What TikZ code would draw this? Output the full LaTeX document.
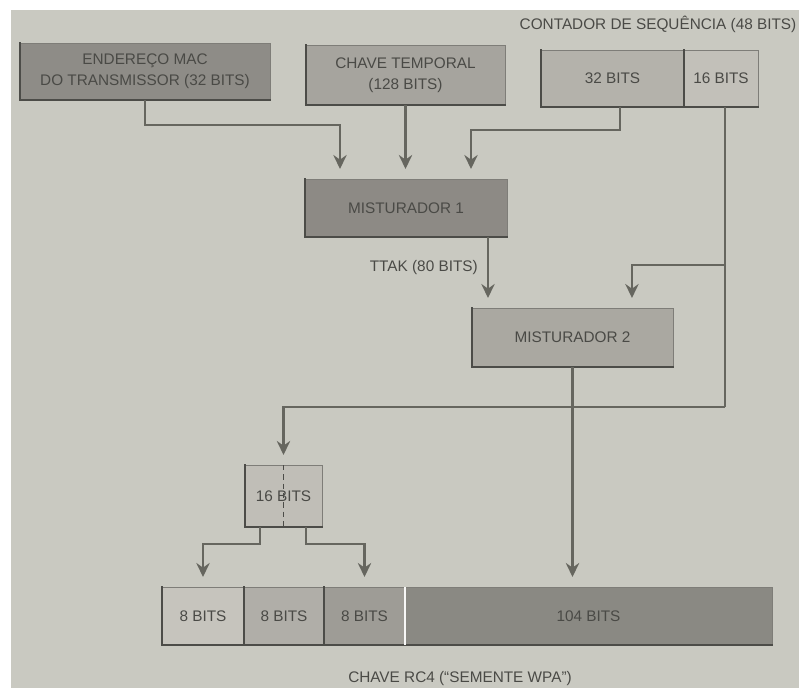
\documentclass[tikz,border=0pt]{standalone}
\usepackage{fontspec}
\setmainfont{Liberation Sans}
\usetikzlibrary{arrows.meta,calc}

% paper and ink
\definecolor{page}{HTML}{C9C9C1}
\definecolor{ink}{HTML}{4A4A46}
\definecolor{wire}{HTML}{66665F}
\definecolor{edgedark}{HTML}{4C4C48}
\definecolor{edgelight}{HTML}{7E7D78}
% box fills
\definecolor{fillA}{HTML}{8E8C87}
\definecolor{fillB}{HTML}{A6A49E}
\definecolor{fillCa}{HTML}{B4B2AB}
\definecolor{fillCb}{HTML}{C2C0B9}
\definecolor{fillMa}{HTML}{8D8A85}
\definecolor{fillMb}{HTML}{AAA8A1}
\definecolor{fillS}{HTML}{C0BEB7}
\definecolor{fillEa}{HTML}{C6C4BD}
\definecolor{fillEb}{HTML}{B0AEA8}
\definecolor{fillEc}{HTML}{9E9C96}
\definecolor{fillK}{HTML}{8A8983}

\begin{document}
\begin{tikzpicture}[x=0.75pt,y=-0.75pt,
  font=\fontsize{11.5}{15.5}\selectfont,
  block/.style={draw=edgelight, line width=0.6pt, inner sep=0pt, outer sep=0pt,
                text=ink, align=center},
  shade edge/.style={draw=edgedark, line width=1.6pt, line cap=rect},
  conn/.style={draw=wire, line width=1.9pt},
  arr/.style={conn, -{Stealth[length=10.5pt,width=10pt,inset=3.5pt]}, shorten >=7.5pt},
  label/.style={text=ink, inner sep=0pt},
]
\useasboundingbox (0,0) rectangle (799,688);
\fill[white] (0,0) rectangle (799,688);
\fill[page] (11,10) rectangle (799,688);

% inputs
\node[label] (title) at (658,24) {CONTADOR DE SEQUÊNCIA (48 BITS)};
\node[block, fill=fillA, minimum width=187.5pt, minimum height=42.75pt] (A) at (145,71.5)
  {ENDEREÇO MAC\\DO TRANSMISSOR (32 BITS)};
\node[block, fill=fillB, minimum width=149.25pt, minimum height=45pt] (B) at (405.5,75)
  {CHAVE TEMPORAL\\(128 BITS)};
\node[block, fill=fillCa, minimum width=107.25pt, minimum height=42.75pt] (C32) at (612.5,78.5)
  {32 BITS};
\node[block, fill=fillCb, minimum width=55.5pt, minimum height=42.75pt] (C16) at (721,78.5)
  {16 BITS};

% mixing stages
\node[block, fill=fillMa, minimum width=151.5pt, minimum height=43.5pt] (M1) at (406,208)
  {MISTURADOR 1};
\node[block, fill=fillMb, minimum width=150.75pt, minimum height=44.25pt] (M2) at (572.5,337.5)
  {MISTURADOR 2};
\node[label, anchor=east] (ttak) at (478,268) {TTAK (80 BITS)};

% 16-bit split block
\node[block, fill=fillS, minimum width=57.75pt, minimum height=46.5pt] (S16) at (283.5,496)
  {16 BITS};
\draw[edgedark, line width=0.8pt, dash pattern=on 4pt off 3pt] (S16.north) -- (S16.south);

% RC4 key
\node[block, fill=fillEa, minimum width=61.5pt, minimum height=43.5pt] (E1) at (203,616) {8 BITS};
\node[block, fill=fillEb, minimum width=60pt, minimum height=43.5pt] (E2) at (284,616) {8 BITS};
\node[block, fill=fillEc, minimum width=60.75pt, minimum height=43.5pt] (E3) at (364.5,616) {8 BITS};
\node[block, fill=fillK, minimum width=275.25pt, minimum height=43.5pt] (K) at (588.5,616) {104 BITS};
\node[label] (caption) at (460,679) {CHAVE RC4 (“SEMENTE WPA”)};

% darker left and bottom edges
\foreach \n in {A,B,C32,C16,M1,M2,S16,E1,E2,E3}
  \draw[shade edge] (\n.north west) -- (\n.south west) -- (\n.south east);
\draw[shade edge] (K.south west) -- (K.south east);
\draw[white!85!page, line width=1.2pt] (K.north west) -- (K.south west);

% into mixer 1
\draw[arr] (A.south) -- ++(0,25) -| ([xshift=-49.5pt]M1.north);
\draw[arr] (B.south) -- (B.south |- M1.north);
\draw[arr] ([xshift=5.5pt]C32.south) -- ++(0,23) -| ([xshift=48.75pt]M1.north);

% mixer 1 to mixer 2
\draw[arr] ([xshift=61.5pt]M1.south) -- ([xshift=61.5pt]M1.south |- M2.north);

% upper 16 bits of the counter
\draw[conn] ([xshift=3pt]C16.south) -- ++(0,300) coordinate (j2);
\coordinate (j1) at ($([xshift=3pt]C16.south)+(0,158)$);
\draw[arr] (j1) -| ([xshift=44.6pt]M2.north);
\draw[arr] (j2) -| (S16.north);

% mixer 2 to the 104-bit part
\draw[arr] (M2.south) -- (M2.south |- K.north);

% split into two bytes
\draw[arr] ([xshift=-17.6pt]S16.south) -- ++(0,17) -| (E1.north);
\draw[arr] ([xshift=16.9pt]S16.south) -- ++(0,17) -| (E3.north);
\end{tikzpicture}
\end{document}
